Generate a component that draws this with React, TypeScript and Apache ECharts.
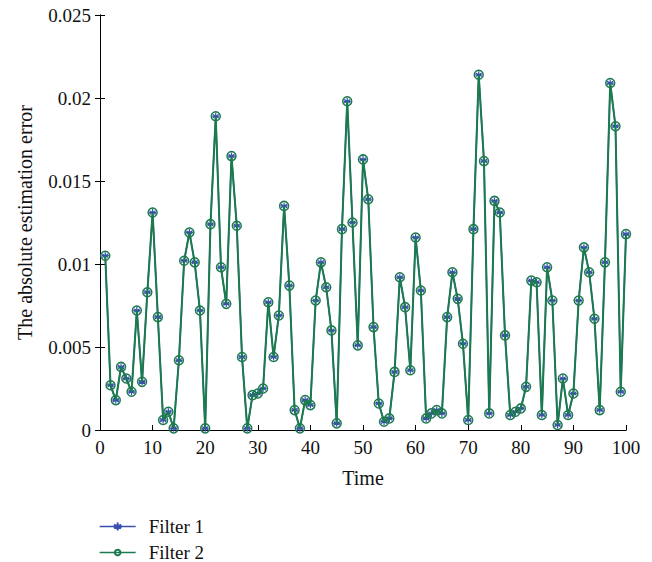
import React, { useEffect, useRef } from "react";
import * as echarts from "echarts";

const timeSteps: number[] = Array.from({ length: 100 }, (_, i) => i + 1);

const filter1: number[] = [
  0.0105, 0.0027, 0.0018, 0.0038, 0.0031, 0.0023, 0.0072, 0.0029, 0.0083, 0.0131,
  0.0068, 0.0006, 0.0011, 0.0001, 0.0042, 0.0102, 0.0119, 0.0101, 0.0072, 0.0001,
  0.0124, 0.0189, 0.0098, 0.0076, 0.0165, 0.0123, 0.0044, 0.0001, 0.0021, 0.0022,
  0.0025, 0.0077, 0.0044, 0.0069, 0.0135, 0.0087, 0.0012, 0.0001, 0.0018, 0.0015,
  0.0078, 0.0101, 0.0086, 0.0060, 0.0004, 0.0121, 0.0198, 0.0125, 0.0051, 0.0163,
  0.0139, 0.0062, 0.0016, 0.0005, 0.0007, 0.0035, 0.0092, 0.0074, 0.0036, 0.0116,
  0.0084, 0.0007, 0.0010, 0.0012, 0.0010, 0.0068, 0.0095, 0.0079, 0.0052, 0.0006,
  0.0121, 0.0214, 0.0162, 0.0010, 0.0138, 0.0131, 0.0057, 0.0009, 0.0011, 0.0013,
  0.0026, 0.0090, 0.0089, 0.0009, 0.0098, 0.0078, 0.0003, 0.0031, 0.0009, 0.0022,
  0.0078, 0.0110, 0.0095, 0.0067, 0.0012, 0.0101, 0.0209, 0.0183, 0.0023, 0.0118,
];

const filter2: number[] = [...filter1];

const seriesNames = ["Filter 1", "Filter 2"];
const xTicks = { min: 0, max: 100, interval: 10 };
const yTicks = { min: 0, max: 0.025, interval: 0.005 };

const BLUE = "#3a4fb2";
const GREEN = "#1b7a4e";
const FONT = "Liberation Serif";

const STAR =
  "path://M5,0 L5,10 M0.67,2.5 L9.33,7.5 M0.67,7.5 L9.33,2.5 M0,5 L10,5";

export default function App() {
  const ref = useRef<HTMLDivElement>(null);
  useEffect(() => {
    if (!ref.current) return;
    const chart = echarts.init(ref.current, null, { renderer: "svg" });
    const axisCommon = {
      axisLine: { show: true, lineStyle: { color: "#000", width: 1 } },
      axisTick: { show: true, inside: true, length: 5, lineStyle: { color: "#000" } },
      splitLine: { show: false },
    };
    const legendCommon = {
      orient: "horizontal",
      left: 99,
      padding: 0,
      itemWidth: 36,
      lineStyle: { width: 1.3 },
      textStyle: { fontFamily: FONT, fontSize: 19, color: "#111", padding: [0, 0, 0, 8] },
    };
    chart.setOption({
      animation: false,
      backgroundColor: "#fff",
      textStyle: { fontFamily: FONT },
      grid: { left: 100, right: 26, top: 15, bottom: 132, containLabel: false },
      legend: [
        { ...legendCommon, itemHeight: 10, top: 517, data: [seriesNames[0]] },
        { ...legendCommon, itemHeight: 7, top: 543, data: [seriesNames[1]] },
      ],
      xAxis: [
        {
          type: "value",
          ...xTicks,
          ...axisCommon,
          name: "Time",
          nameLocation: "middle",
          nameGap: 38,
          nameTextStyle: { fontFamily: FONT, fontSize: 20, color: "#111" },
          axisLabel: { fontFamily: FONT, fontSize: 19, color: "#111", margin: 8 },
        },
        {
          type: "value",
          position: "top",
          ...xTicks,
          ...axisCommon,
          axisTick: { show: false },
          axisLabel: { show: false },
        },
      ],
      yAxis: [
        {
          type: "value",
          ...yTicks,
          ...axisCommon,
          name: "The absolute estimation error",
          nameLocation: "middle",
          nameGap: 65,
          nameTextStyle: { fontFamily: FONT, fontSize: 20, color: "#111" },
          axisLabel: { fontFamily: FONT, fontSize: 19, color: "#111", margin: 9 },
        },
        {
          type: "value",
          position: "right",
          ...yTicks,
          ...axisCommon,
          axisLabel: { show: false },
        },
      ],
      series: [
        {
          name: seriesNames[0],
          type: "line",
          data: timeSteps.map((t, i) => [t, filter1[i]]),
          symbol: STAR,
          symbolSize: 7,
          showAllSymbol: true,
          lineStyle: { color: BLUE, width: 1.5 },
          itemStyle: { color: BLUE, borderColor: BLUE, borderWidth: 1.2 },
          z: 2,
        },
        {
          name: seriesNames[1],
          type: "line",
          data: timeSteps.map((t, i) => [t, filter2[i]]),
          symbol: "circle",
          symbolSize: 9,
          showAllSymbol: true,
          lineStyle: { color: GREEN, width: 2 },
          itemStyle: { color: "rgba(0,0,0,0)", borderColor: GREEN, borderWidth: 1.5 },
          z: 3,
        },
      ],
    });
    return () => chart.dispose();
  }, []);
  return (
    <div
      ref={ref}
      style={{ position: "fixed", left: 0, top: 0, width: 652, height: 562 }}
    />
  );
}
